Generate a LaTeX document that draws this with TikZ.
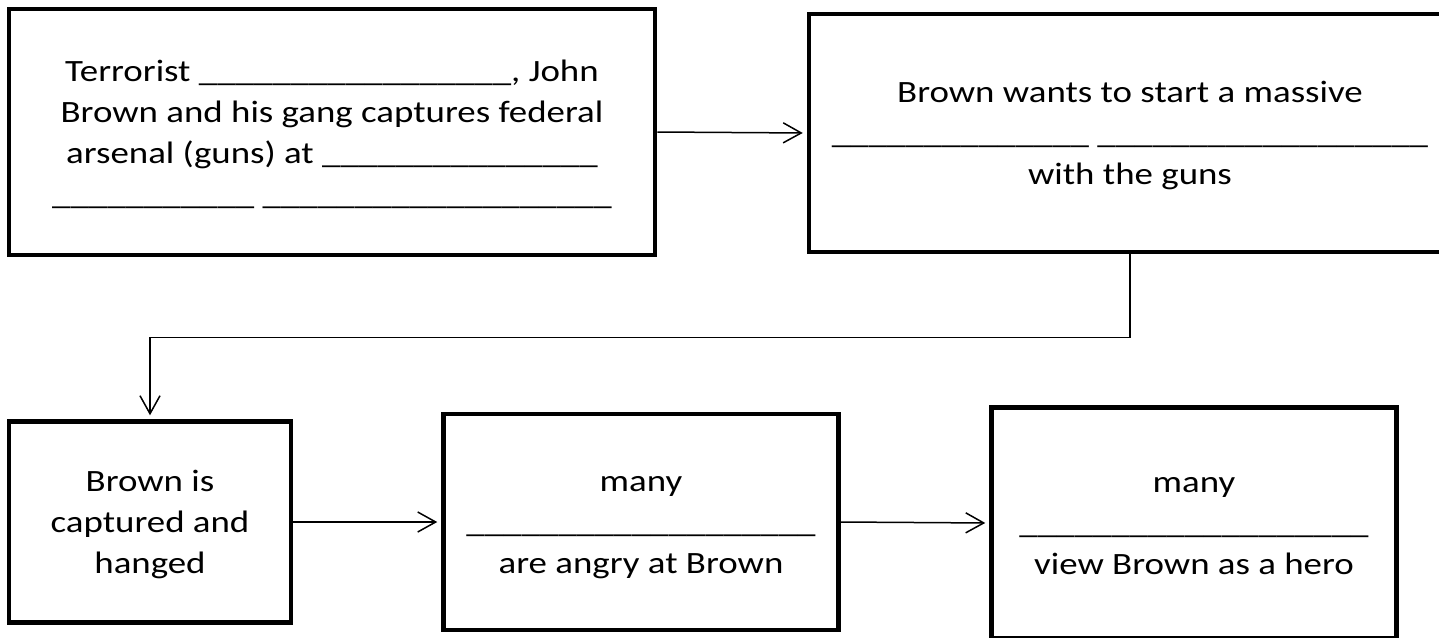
\documentclass[tikz,border=0pt]{standalone}
\usepackage{fontspec}
\setmainfont{Carlito}[FakeStretch=1.19]
\usetikzlibrary{arrows.meta}

\newcommand{\blank}[1]{\foreach \i in {1,...,#1}{\textunderscore}}
\newcommand{\tallstrut}{\rule[-10pt]{0pt}{41pt}}

\tikzset{
    box/.style={draw, line width=4.5pt, align=center, inner sep=0pt,
        font=\fontsize{31}{41}\selectfont},
    link/.style={line width=1.5pt, shorten >=4pt,
        -{Straight Barb[length=18pt,width=20pt]}}
}

\begin{document}
\begin{tikzpicture}[x=1pt, y=-1pt]
    \useasboundingbox (0, 0) rectangle (1439, 637);
    \node[box, minimum width=646pt, minimum height=246pt](1) at (332, 132)
        {\tallstrut Terrorist \blank{17}, John\\
         Brown and his gang captures federal\\
         arsenal (guns) at \blank{15}\\
         \blank{11} \blank{19}\tallstrut};
    \node[box, minimum width=642pt, minimum height=238pt](2) at (1130, 133)
        {\tallstrut Brown wants to start a massive\\
         \blank{14} \blank{18}\\
         with the guns\tallstrut};
    \node[box, minimum width=282pt, minimum height=201pt](3) at (150, 522)
        {\tallstrut Brown is\\ captured and\\ hanged\tallstrut};
    \node[box, minimum width=395pt, minimum height=216pt](4) at (641, 522)
        {\tallstrut many\\ \blank{19}\\ are angry at Brown\tallstrut};
    \node[box, minimum width=405pt, minimum height=231pt](5) at (1194, 523)
        {\tallstrut many\\ \blank{19}\\ view Brown as a hero\tallstrut};

    \draw[link] (1.east) -- (2.west);
    \draw[link] (2.south) -- ++(0, 83) -| (3.north);
    \draw[link] (3.east) -- (4.west);
    \draw[link] (4.east) -- (5.west);
\end{tikzpicture}
\end{document}
